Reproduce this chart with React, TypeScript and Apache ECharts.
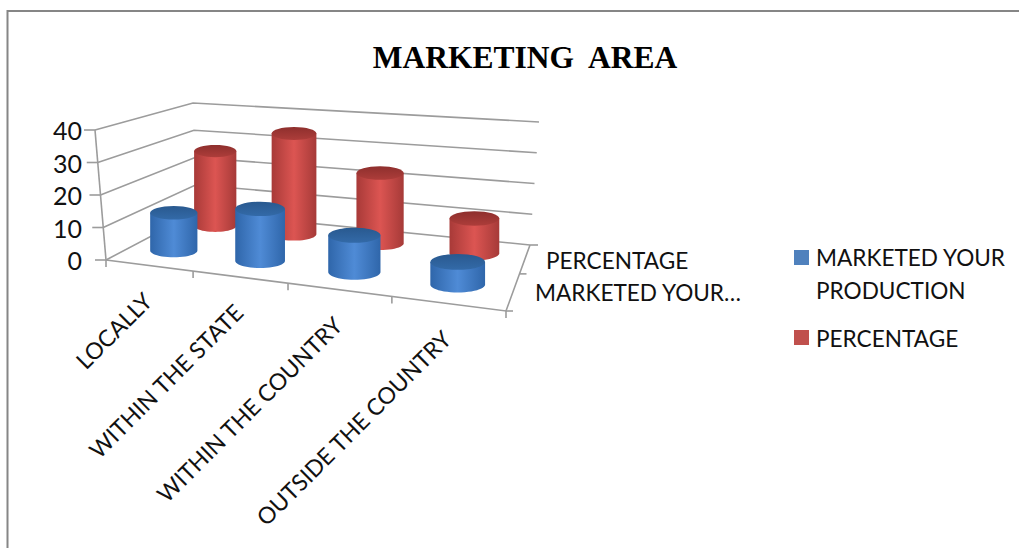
import React, { useEffect, useRef } from "react";
import * as echarts from "echarts";

const titleText = "MARKETING  AREA";
const categories = ["LOCALLY", "WITHIN THE STATE", "WITHIN THE COUNTRY", "OUTSIDE THE COUNTRY"];
const marketedName = "MARKETED YOUR PRODUCTION";
const percentageName = "PERCENTAGE";
const marketedValues = [12, 16, 11, 6.5];
const percentageValues = [26, 34, 23, 11];
const yTicks = [0, 10, 20, 30, 40];
const depthLabels = ["PERCENTAGE", "MARKETED YOUR…"];

const FONT = "Lato, 'Noto Sans', sans-serif";
const GRID = { left: 106, top: 130, width: 400, height: 130 };

// projected corners of the 3D box: [front/back][left/right], bottom and top
const FBL = [106, 260], FBR = [506, 311], BBL = [197, 212], BBR = [530, 245];
const FTL = [95, 130], FTR = [521, 161], BTL = [193, 103], BTR = [539, 122];

const lerp = (a: number[], b: number[], t: number) => [a[0] + (b[0] - a[0]) * t, a[1] + (b[1] - a[1]) * t];
const warp = (u: number, k: number) => (k * u) / (1 + (k - 1) * u);

// u: 0-1 along categories, d: 0-1 along depth, h: 0-1 along height
function project(u: number, d: number, h: number) {
  const t = warp(u, 0.835);
  const s = warp(d, 1.286);
  const bottom = lerp(lerp(FBL, FBR, t), lerp(BBL, BBR, t), s);
  const top = lerp(lerp(FTL, FTR, t), lerp(BTL, BTR, t), s);
  return lerp(bottom, top, h);
}

const lineStyle = { stroke: "#9c9c9c", lineWidth: 1.6, fill: "none" };

function renderWall(params: any, api: any) {
  const c = params.coordSys;
  const h = (c.y + c.height - api.coord([0, api.value(1)])[1]) / c.height;
  const a = project(0, 0, h), b = project(0, 1, h), e = project(1, 1, h);
  return {
    type: "group",
    children: [
      { type: "polyline", shape: { points: [a, b, e] }, style: lineStyle },
      { type: "line", shape: { x1: a[0] - 11, y1: a[1], x2: a[0], y2: a[1] }, style: lineStyle },
    ],
  };
}

function renderFloor(params: any, api: any) {
  const a = project(0, 0, 0), r = project(1, 0, 0), b = project(1, 1, 0);
  const top = project(0, 0, 1);
  const children: any[] = [
    { type: "line", shape: { x1: a[0], y1: a[1], x2: top[0], y2: top[1] }, style: lineStyle },
    { type: "polyline", shape: { points: [a, r, b] }, style: lineStyle },
    { type: "line", shape: { x1: b[0], y1: b[1], x2: b[0] + 8, y2: b[1] }, style: lineStyle },
    { type: "line", shape: { x1: r[0], y1: r[1], x2: r[0] + 7, y2: r[1] }, style: lineStyle },
  ];
  const mid = project(1, 0.5, 0);
  children.push({ type: "line", shape: { x1: mid[0], y1: mid[1], x2: mid[0] + 7, y2: mid[1] }, style: lineStyle });
  for (let i = 0; i <= 4; i++) {
    const p = project(i / 4, 0, 0);
    children.push({ type: "line", shape: { x1: p[0], y1: p[1], x2: p[0], y2: p[1] + 7 }, style: lineStyle });
  }
  return { type: "group", children };
}

function renderCategoryLabel(params: any, api: any) {
  const c = params.coordSys;
  const i = api.value(0);
  const u = (api.coord([i, 0])[0] - c.x) / c.width;
  const p = project(u, 0, 0);
  return {
    type: "text",
    x: p[0] - 1,
    y: p[1] + 31,
    rotation: Math.PI / 4,
    style: {
      text: categories[i],
      fontFamily: FONT,
      fontSize: 23,
      fill: "#111",
      align: "right",
      verticalAlign: "middle",
    },
  };
}

function makeCylinder(depth: number, baseRx: number, top: string, edgeL: string, mid: string, edgeR: string, rim: string) {
  return (params: any, api: any) => {
    const c = params.coordSys;
    const pt = api.coord([api.value(0), api.value(1)]);
    const u = (pt[0] - c.x) / c.width;
    const h = (c.y + c.height - pt[1]) / c.height;
    const b = project(u, depth, 0);
    const t = project(u, depth, h);
    const rx = baseRx + 5 * u;
    const ry = rx * 0.29;
    const cx = b[0];
    const points: number[][] = [[cx - rx, t[1]]];
    for (let k = 0; k <= 24; k++) {
      const th = Math.PI - (k / 24) * Math.PI;
      points.push([cx + rx * Math.cos(th), b[1] + ry * Math.sin(th)]);
    }
    points.push([cx + rx, t[1]]);
    return {
      type: "group",
      children: [
        {
          type: "polygon",
          shape: { points },
          style: {
            fill: new echarts.graphic.LinearGradient(0, 0, 1, 0, [
              { offset: 0, color: edgeL },
              { offset: 0.5, color: mid },
              { offset: 1, color: edgeR },
            ]),
          },
        },
        {
          type: "ellipse",
          shape: { cx, cy: t[1], rx, ry },
          style: {
            fill: new echarts.graphic.LinearGradient(0, 0, 0, 1, [
              { offset: 0, color: rim },
              { offset: 1, color: top },
            ]),
          },
        },
      ],
    };
  };
}

export default function App() {
  const ref = useRef<HTMLDivElement>(null);
  useEffect(() => {
    const chart = echarts.init(ref.current!, undefined, { renderer: "svg" });
    const legendText = { fontFamily: FONT, fontSize: 22.6, fill: "#111", verticalAlign: "middle" };
    chart.setOption({
      animation: false,
      backgroundColor: "#fff",
      title: {
        text: titleText,
        left: 520,
        top: 36,
        textAlign: "center",
        textStyle: { fontFamily: "'Liberation Serif', serif", fontWeight: "bold", fontSize: 31.5, color: "#000" },
      },
      grid: { ...GRID },
      xAxis: { type: "category", data: categories, show: false },
      yAxis: {
        type: "value",
        min: 0,
        max: 40,
        interval: 10,
        axisLine: { show: false },
        axisTick: { show: false },
        splitLine: { show: false },
        axisLabel: { margin: 24, fontFamily: FONT, fontSize: 25, color: "#111" },
      },
      graphic: [
        { type: "polyline", shape: { points: [[7.5, 548], [7.5, 11], [1019, 11]] }, style: { fill: "none", stroke: "#868686", lineWidth: 2 }, z: 0 },
        { type: "text", x: 546, y: 260, style: { ...legendText, text: depthLabels[0] } },
        { type: "text", x: 535, y: 292, style: { ...legendText, text: depthLabels[1] } },
        { type: "rect", shape: { x: 794, y: 250, width: 15, height: 15 }, style: { fill: "#4F81BD" } },
        { type: "text", x: 816, y: 257, style: { ...legendText, text: "MARKETED YOUR" } },
        { type: "text", x: 816, y: 290, style: { ...legendText, text: "PRODUCTION" } },
        { type: "rect", shape: { x: 794, y: 330, width: 15, height: 15 }, style: { fill: "#C0504D" } },
        { type: "text", x: 816, y: 338, style: { ...legendText, text: percentageName } },
      ],
      series: [
        { type: "custom", name: "wall", z: 1, silent: true, data: yTicks.map((t) => [0, t]), renderItem: renderWall },
        { type: "custom", name: "floor", z: 2, silent: true, data: [[0, 0]], renderItem: renderFloor },
        {
          type: "custom",
          name: "category labels",
          z: 3,
          silent: true,
          data: categories.map((_, i) => [i, 0]),
          renderItem: renderCategoryLabel,
        },
        {
          type: "custom",
          name: percentageName,
          z: 4,
          data: percentageValues.map((v, i) => [i, v]),
          renderItem: makeCylinder(0.75, 20.5, "#ad3d3a", "#a83a38", "#dc5552", "#a63a38", "#8e2f2d"),
        },
        {
          type: "custom",
          name: marketedName,
          z: 5,
          data: marketedValues.map((v, i) => [i, v]),
          renderItem: makeCylinder(0.25, 23, "#336aa8", "#2f66aa", "#4f8bd6", "#2f66aa", "#29598f"),
        },
      ],
    });
    return () => chart.dispose();
  }, []);
  return <div ref={ref} style={{ position: "fixed", left: 0, top: 0, width: 1019, height: 548 }} />;
}
